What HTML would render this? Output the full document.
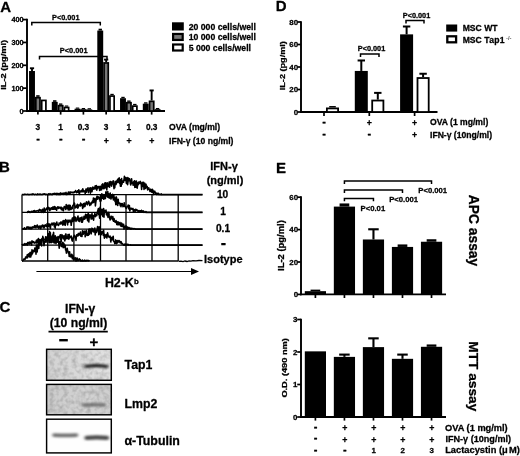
<!DOCTYPE html>
<html><head><meta charset="utf-8"><title>Figure</title>
<style>html,body{margin:0;padding:0;background:#fff;overflow:hidden}svg{display:block}text{font-family:"Liberation Sans",sans-serif;font-weight:bold;fill:#000;stroke:#000;stroke-width:0.28px;stroke-linejoin:round}</style>
</head><body>
<svg width="520" height="456" viewBox="0 0 520 456">
<rect width="520" height="456" fill="#fff"/>
<text x="0.30" y="11.80" font-size="15" text-anchor="start" >A</text>
<line x1="27.00" y1="18.80" x2="27.00" y2="111.95" stroke="#000" stroke-width="1.9" />
<line x1="26.05" y1="111.00" x2="165.00" y2="111.00" stroke="#000" stroke-width="1.9" />
<line x1="22.70" y1="111.00" x2="27.00" y2="111.00" stroke="#000" stroke-width="1.7" />
<text x="23.60" y="113.52" font-size="7.3" text-anchor="end" >0</text>
<line x1="22.70" y1="88.15" x2="27.00" y2="88.15" stroke="#000" stroke-width="1.7" />
<text x="23.60" y="90.67" font-size="7.3" text-anchor="end" >100</text>
<line x1="22.70" y1="65.30" x2="27.00" y2="65.30" stroke="#000" stroke-width="1.7" />
<text x="23.60" y="67.82" font-size="7.3" text-anchor="end" >200</text>
<line x1="22.70" y1="42.45" x2="27.00" y2="42.45" stroke="#000" stroke-width="1.7" />
<text x="23.60" y="44.97" font-size="7.3" text-anchor="end" >300</text>
<line x1="22.70" y1="19.60" x2="27.00" y2="19.60" stroke="#000" stroke-width="1.7" />
<text x="23.60" y="22.12" font-size="7.3" text-anchor="end" >400</text>
<text transform="translate(3.10,64.80) rotate(-90) scale(1.16,1)" font-size="8.0" text-anchor="middle" dy="0.36em">IL-2 (pg/ml)</text>
<line x1="37.90" y1="111.00" x2="37.90" y2="114.60" stroke="#000" stroke-width="1.7" />
<line x1="32.00" y1="68.27" x2="32.00" y2="71.01" stroke="#000" stroke-width="1.9" />
<line x1="29.90" y1="68.27" x2="34.10" y2="68.27" stroke="#000" stroke-width="1.9" />
<rect x="29.90" y="71.86" width="4.20" height="39.14" fill="#000" stroke="#000" stroke-width="1.7"/>
<rect x="36.20" y="95.20" width="3.40" height="1.64" fill="#000" stroke="none" stroke-width="0"/>
<rect x="35.80" y="97.68" width="4.20" height="13.32" fill="#777" stroke="#000" stroke-width="1.7"/>
<rect x="41.70" y="100.42" width="4.20" height="10.58" fill="#fff" stroke="#000" stroke-width="1.7"/>
<line x1="60.65" y1="111.00" x2="60.65" y2="114.60" stroke="#000" stroke-width="1.7" />
<rect x="53.05" y="100.22" width="3.40" height="1.64" fill="#000" stroke="none" stroke-width="0"/>
<rect x="52.65" y="102.71" width="4.20" height="8.29" fill="#000" stroke="#000" stroke-width="1.7"/>
<rect x="58.95" y="103.42" width="3.40" height="1.41" fill="#000" stroke="none" stroke-width="0"/>
<rect x="58.55" y="105.68" width="4.20" height="5.32" fill="#777" stroke="#000" stroke-width="1.7"/>
<rect x="64.85" y="105.48" width="3.40" height="1.18" fill="#000" stroke="none" stroke-width="0"/>
<rect x="64.45" y="107.51" width="4.20" height="3.49" fill="#fff" stroke="#000" stroke-width="1.7"/>
<line x1="83.40" y1="111.00" x2="83.40" y2="114.60" stroke="#000" stroke-width="1.7" />
<rect x="75.80" y="107.54" width="3.40" height="1.18" fill="#000" stroke="none" stroke-width="0"/>
<rect x="75.40" y="109.56" width="4.20" height="1.44" fill="#000" stroke="#000" stroke-width="1.7"/>
<rect x="81.70" y="107.99" width="3.40" height="1.18" fill="#000" stroke="none" stroke-width="0"/>
<rect x="81.30" y="110.02" width="4.20" height="0.98" fill="#777" stroke="#000" stroke-width="1.7"/>
<rect x="87.60" y="108.22" width="3.40" height="1.18" fill="#000" stroke="none" stroke-width="0"/>
<rect x="87.20" y="110.25" width="4.20" height="0.75" fill="#fff" stroke="#000" stroke-width="1.7"/>
<line x1="106.15" y1="111.00" x2="106.15" y2="114.60" stroke="#000" stroke-width="1.7" />
<rect x="98.55" y="28.70" width="3.40" height="1.86" fill="#000" stroke="none" stroke-width="0"/>
<rect x="98.15" y="31.42" width="4.20" height="79.58" fill="#000" stroke="#000" stroke-width="1.7"/>
<line x1="106.15" y1="59.59" x2="106.15" y2="62.10" stroke="#000" stroke-width="1.9" />
<line x1="104.05" y1="59.59" x2="108.25" y2="59.59" stroke="#000" stroke-width="1.9" />
<rect x="104.05" y="62.95" width="4.20" height="48.05" fill="#777" stroke="#000" stroke-width="1.7"/>
<rect x="110.35" y="93.83" width="3.40" height="1.41" fill="#000" stroke="none" stroke-width="0"/>
<rect x="109.95" y="96.08" width="4.20" height="14.92" fill="#fff" stroke="#000" stroke-width="1.7"/>
<line x1="128.90" y1="111.00" x2="128.90" y2="114.60" stroke="#000" stroke-width="1.7" />
<rect x="121.30" y="96.80" width="3.40" height="1.41" fill="#000" stroke="none" stroke-width="0"/>
<rect x="120.90" y="99.05" width="4.20" height="11.95" fill="#000" stroke="#000" stroke-width="1.7"/>
<rect x="127.20" y="100.45" width="3.40" height="1.41" fill="#000" stroke="none" stroke-width="0"/>
<rect x="126.80" y="102.71" width="4.20" height="8.29" fill="#777" stroke="#000" stroke-width="1.7"/>
<rect x="133.10" y="103.88" width="3.40" height="1.41" fill="#000" stroke="none" stroke-width="0"/>
<rect x="132.70" y="106.14" width="4.20" height="4.86" fill="#fff" stroke="#000" stroke-width="1.7"/>
<line x1="151.65" y1="111.00" x2="151.65" y2="114.60" stroke="#000" stroke-width="1.7" />
<rect x="144.05" y="102.28" width="3.40" height="1.41" fill="#000" stroke="none" stroke-width="0"/>
<rect x="143.65" y="104.54" width="4.20" height="6.46" fill="#000" stroke="#000" stroke-width="1.7"/>
<line x1="151.65" y1="90.44" x2="151.65" y2="100.49" stroke="#000" stroke-width="1.9" />
<line x1="149.55" y1="90.44" x2="153.75" y2="90.44" stroke="#000" stroke-width="1.9" />
<rect x="149.55" y="101.34" width="4.20" height="9.66" fill="#777" stroke="#000" stroke-width="1.7"/>
<rect x="155.85" y="107.99" width="3.40" height="1.18" fill="#000" stroke="none" stroke-width="0"/>
<rect x="155.45" y="110.02" width="4.20" height="0.98" fill="#fff" stroke="#000" stroke-width="1.7"/>
<text x="37.90" y="129.80" font-size="8.3" text-anchor="middle" >3</text>
<text x="38.10" y="141.50" font-size="11" text-anchor="middle" >-</text>
<text x="60.65" y="129.80" font-size="8.3" text-anchor="middle" >1</text>
<text x="60.85" y="141.50" font-size="11" text-anchor="middle" >-</text>
<text x="83.40" y="129.80" font-size="8.3" text-anchor="middle" >0.3</text>
<text x="83.60" y="141.50" font-size="11" text-anchor="middle" >-</text>
<text x="106.15" y="129.80" font-size="8.3" text-anchor="middle" >3</text>
<text x="106.35" y="143.60" font-size="8.8" text-anchor="middle" >+</text>
<text x="128.90" y="129.80" font-size="8.3" text-anchor="middle" >1</text>
<text x="129.10" y="143.60" font-size="8.8" text-anchor="middle" >+</text>
<text x="151.65" y="129.80" font-size="8.3" text-anchor="middle" >0.3</text>
<text x="151.85" y="143.60" font-size="8.8" text-anchor="middle" >+</text>
<text x="169.00" y="130.30" font-size="8.6" text-anchor="start" >OVA (mg/ml)</text>
<text x="169.00" y="144.00" font-size="8.6" text-anchor="start" >IFN-γ (10 ng/ml)</text>
<path d="M31.80 25.40V22.40H100.30V25.40" fill="none" stroke="#000" stroke-width="1.5"/>
<text x="65.80" y="19.60" font-size="7.3" text-anchor="middle" >P&lt;0.001</text>
<path d="M39.50 59.40V56.40H107.00V59.40" fill="none" stroke="#000" stroke-width="1.5"/>
<text x="73.70" y="53.30" font-size="7.4" text-anchor="middle" >P&lt;0.001</text>
<rect x="173.10" y="23.40" width="9.60" height="6.00" fill="#000" stroke="#000" stroke-width="2.2"/>
<text x="188.70" y="29.80" font-size="8.7" text-anchor="start" >20 000 cells/well</text>
<rect x="173.10" y="33.95" width="9.60" height="6.00" fill="#777" stroke="#000" stroke-width="2.2"/>
<text x="188.70" y="40.40" font-size="8.7" text-anchor="start" >10 000 cells/well</text>
<rect x="173.10" y="44.50" width="9.60" height="6.00" fill="#fff" stroke="#000" stroke-width="2.2"/>
<text x="188.70" y="50.80" font-size="8.7" text-anchor="start" >5 000 cells/well</text>
<text x="275.80" y="11.00" font-size="15" text-anchor="start" >D</text>
<line x1="301.00" y1="21.20" x2="301.00" y2="112.95" stroke="#000" stroke-width="1.9" />
<line x1="300.05" y1="112.00" x2="437.50" y2="112.00" stroke="#000" stroke-width="1.9" />
<line x1="297.20" y1="112.00" x2="301.00" y2="112.00" stroke="#000" stroke-width="1.7" />
<text x="298.10" y="114.73" font-size="7.9" text-anchor="end" >0</text>
<line x1="297.20" y1="89.50" x2="301.00" y2="89.50" stroke="#000" stroke-width="1.7" />
<text x="298.10" y="92.23" font-size="7.9" text-anchor="end" >20</text>
<line x1="297.20" y1="67.00" x2="301.00" y2="67.00" stroke="#000" stroke-width="1.7" />
<text x="298.10" y="69.73" font-size="7.9" text-anchor="end" >40</text>
<line x1="297.20" y1="44.50" x2="301.00" y2="44.50" stroke="#000" stroke-width="1.7" />
<text x="298.10" y="47.23" font-size="7.9" text-anchor="end" >60</text>
<line x1="297.20" y1="22.00" x2="301.00" y2="22.00" stroke="#000" stroke-width="1.7" />
<text x="298.10" y="24.73" font-size="7.9" text-anchor="end" >80</text>
<text transform="translate(281.80,65.70) rotate(-90) scale(1.14,1)" font-size="8.0" text-anchor="middle" dy="0.36em">IL-2 (pg/ml)</text>
<line x1="324.00" y1="112.00" x2="324.00" y2="116.00" stroke="#000" stroke-width="1.7" />
<rect x="329.20" y="106.05" width="6.60" height="1.45" fill="#000" stroke="none" stroke-width="0"/>
<rect x="326.90" y="108.40" width="11.20" height="3.60" fill="#fff" stroke="#000" stroke-width="1.8"/>
<line x1="369.30" y1="112.00" x2="369.30" y2="116.00" stroke="#000" stroke-width="1.7" />
<line x1="361.30" y1="60.48" x2="361.30" y2="70.94" stroke="#000" stroke-width="2.0" />
<line x1="357.60" y1="60.48" x2="365.00" y2="60.48" stroke="#000" stroke-width="2.0" />
<rect x="355.70" y="71.84" width="11.20" height="40.16" fill="#000" stroke="#000" stroke-width="1.8"/>
<line x1="377.80" y1="92.88" x2="377.80" y2="99.62" stroke="#000" stroke-width="2.0" />
<line x1="374.10" y1="92.88" x2="381.50" y2="92.88" stroke="#000" stroke-width="2.0" />
<rect x="372.20" y="100.53" width="11.20" height="11.47" fill="#fff" stroke="#000" stroke-width="1.8"/>
<line x1="414.60" y1="112.00" x2="414.60" y2="116.00" stroke="#000" stroke-width="1.7" />
<line x1="406.60" y1="26.50" x2="406.60" y2="34.38" stroke="#000" stroke-width="2.0" />
<line x1="402.90" y1="26.50" x2="410.30" y2="26.50" stroke="#000" stroke-width="2.0" />
<rect x="401.00" y="35.27" width="11.20" height="76.72" fill="#000" stroke="#000" stroke-width="1.8"/>
<line x1="423.10" y1="73.75" x2="423.10" y2="77.12" stroke="#000" stroke-width="2.0" />
<line x1="419.40" y1="73.75" x2="426.80" y2="73.75" stroke="#000" stroke-width="2.0" />
<rect x="417.50" y="78.03" width="11.20" height="33.98" fill="#fff" stroke="#000" stroke-width="1.8"/>
<text x="324.00" y="124.50" font-size="11" text-anchor="middle" >-</text>
<text x="324.00" y="136.50" font-size="11" text-anchor="middle" >-</text>
<text x="369.30" y="125.60" font-size="8.8" text-anchor="middle" >+</text>
<text x="369.30" y="136.50" font-size="11" text-anchor="middle" >-</text>
<text x="414.60" y="125.60" font-size="8.8" text-anchor="middle" >+</text>
<text x="414.60" y="137.80" font-size="8.8" text-anchor="middle" >+</text>
<text x="430.00" y="125.20" font-size="8.6" text-anchor="start" >OVA (1 mg/ml)</text>
<text x="430.00" y="137.50" font-size="8.6" text-anchor="start" >IFN-γ (10ng/ml)</text>
<path d="M360.50 57.00V54.00H379.00V57.00" fill="none" stroke="#000" stroke-width="1.5"/>
<text x="371.50" y="50.60" font-size="7.3" text-anchor="middle" >P&lt;0.001</text>
<path d="M406.00 23.60V20.60H424.00V23.60" fill="none" stroke="#000" stroke-width="1.5"/>
<text x="416.50" y="17.90" font-size="7.3" text-anchor="middle" >P&lt;0.001</text>
<rect x="447.20" y="25.50" width="9.00" height="5.10" fill="#000" stroke="#000" stroke-width="2.0"/>
<rect x="447.30" y="36.30" width="8.80" height="6.00" fill="#fff" stroke="#000" stroke-width="2.3"/>
<text x="462.70" y="31.30" font-size="8.6" text-anchor="start" >MSC WT</text>
<text x="462.7" y="43.4" font-size="8.6">MSC <tspan letter-spacing="0.35">Tap1</tspan><tspan font-size="5.8" dy="-3.6" dx="1.0" fill="#555" stroke="none">-/-</tspan></text>
<text x="276.00" y="172.90" font-size="15" text-anchor="start" >E</text>
<line x1="301.00" y1="196.30" x2="301.00" y2="295.35" stroke="#000" stroke-width="1.9" />
<line x1="300.05" y1="294.40" x2="446.00" y2="294.40" stroke="#000" stroke-width="1.9" />
<line x1="297.20" y1="294.40" x2="301.00" y2="294.40" stroke="#000" stroke-width="1.7" />
<text x="298.10" y="297.13" font-size="7.9" text-anchor="end" >0</text>
<line x1="297.20" y1="262.00" x2="301.00" y2="262.00" stroke="#000" stroke-width="1.7" />
<text x="298.10" y="264.73" font-size="7.9" text-anchor="end" >20</text>
<line x1="297.20" y1="229.60" x2="301.00" y2="229.60" stroke="#000" stroke-width="1.7" />
<text x="298.10" y="232.33" font-size="7.9" text-anchor="end" >40</text>
<line x1="297.20" y1="197.20" x2="301.00" y2="197.20" stroke="#000" stroke-width="1.7" />
<text x="298.10" y="199.93" font-size="7.9" text-anchor="end" >60</text>
<text transform="translate(280.70,245.60) rotate(-90) scale(1.15,1)" font-size="8.2" text-anchor="middle" dy="0.36em">IL-2 (pg/ml)</text>
<line x1="315.40" y1="294.40" x2="315.40" y2="298.00" stroke="#000" stroke-width="1.7" />
<rect x="310.55" y="289.62" width="9.70" height="1.54" fill="#000" stroke="none" stroke-width="0"/>
<rect x="304.80" y="291.16" width="21.20" height="3.24" fill="#000" stroke="none" stroke-width="0"/>
<line x1="344.43" y1="294.40" x2="344.43" y2="298.00" stroke="#000" stroke-width="1.7" />
<rect x="339.58" y="203.44" width="9.70" height="3.16" fill="#000" stroke="none" stroke-width="0"/>
<rect x="333.83" y="206.60" width="21.20" height="87.80" fill="#000" stroke="none" stroke-width="0"/>
<line x1="373.46" y1="294.40" x2="373.46" y2="298.00" stroke="#000" stroke-width="1.7" />
<line x1="373.46" y1="229.28" x2="373.46" y2="239.48" stroke="#000" stroke-width="2.1" />
<line x1="368.21" y1="229.28" x2="378.71" y2="229.28" stroke="#000" stroke-width="2.1" />
<rect x="362.86" y="239.48" width="21.20" height="54.92" fill="#000" stroke="none" stroke-width="0"/>
<line x1="402.49" y1="294.40" x2="402.49" y2="298.00" stroke="#000" stroke-width="1.7" />
<rect x="397.64" y="244.43" width="9.70" height="2.51" fill="#000" stroke="none" stroke-width="0"/>
<rect x="391.89" y="246.93" width="21.20" height="47.47" fill="#000" stroke="none" stroke-width="0"/>
<line x1="431.52" y1="294.40" x2="431.52" y2="298.00" stroke="#000" stroke-width="1.7" />
<rect x="426.67" y="239.24" width="9.70" height="2.51" fill="#000" stroke="none" stroke-width="0"/>
<rect x="420.92" y="241.75" width="21.20" height="52.65" fill="#000" stroke="none" stroke-width="0"/>
<path d="M344.43 183.90V181.10H431.52V183.90" fill="none" stroke="#000" stroke-width="1.5"/>
<path d="M344.43 192.90V190.10H402.49V192.90" fill="none" stroke="#000" stroke-width="1.5"/>
<path d="M344.43 201.20V198.40H373.46V201.20" fill="none" stroke="#000" stroke-width="1.5"/>
<text x="372.90" y="211.00" font-size="7.7" text-anchor="middle" >P&lt;0.01</text>
<text x="403.60" y="202.00" font-size="7.7" text-anchor="middle" >P&lt;0.001</text>
<text x="432.70" y="193.30" font-size="7.7" text-anchor="middle" >P&lt;0.001</text>
<text transform="translate(474.20,230.50) rotate(90) scale(1,1)" font-size="13.8" text-anchor="middle" dy="0.36em">APC assay</text>
<line x1="301.00" y1="318.80" x2="301.00" y2="417.95" stroke="#000" stroke-width="1.9" />
<line x1="300.05" y1="417.00" x2="446.00" y2="417.00" stroke="#000" stroke-width="1.9" />
<line x1="297.20" y1="417.00" x2="301.00" y2="417.00" stroke="#000" stroke-width="1.7" />
<text x="297.40" y="419.73" font-size="7.9" text-anchor="end" >0</text>
<line x1="297.20" y1="384.50" x2="301.00" y2="384.50" stroke="#000" stroke-width="1.7" />
<text x="297.40" y="387.23" font-size="7.9" text-anchor="end" >1</text>
<line x1="297.20" y1="352.00" x2="301.00" y2="352.00" stroke="#000" stroke-width="1.7" />
<text x="297.40" y="354.73" font-size="7.9" text-anchor="end" >2</text>
<line x1="297.20" y1="319.50" x2="301.00" y2="319.50" stroke="#000" stroke-width="1.7" />
<text x="297.40" y="322.23" font-size="7.9" text-anchor="end" >3</text>
<text transform="translate(284.30,367.90) rotate(-90) scale(1.155,1)" font-size="8.0" text-anchor="middle" dy="0.36em">O.D. (490 nm)</text>
<line x1="315.40" y1="417.00" x2="315.40" y2="420.60" stroke="#000" stroke-width="1.7" />
<rect x="304.80" y="351.35" width="21.20" height="65.65" fill="#000" stroke="none" stroke-width="0"/>
<line x1="344.43" y1="417.00" x2="344.43" y2="420.60" stroke="#000" stroke-width="1.7" />
<line x1="344.43" y1="354.60" x2="344.43" y2="356.88" stroke="#000" stroke-width="2.1" />
<line x1="339.18" y1="354.60" x2="349.68" y2="354.60" stroke="#000" stroke-width="2.1" />
<rect x="333.83" y="356.88" width="21.20" height="60.12" fill="#000" stroke="none" stroke-width="0"/>
<line x1="373.46" y1="417.00" x2="373.46" y2="420.60" stroke="#000" stroke-width="1.7" />
<line x1="373.46" y1="338.35" x2="373.46" y2="347.12" stroke="#000" stroke-width="2.1" />
<line x1="368.21" y1="338.35" x2="378.71" y2="338.35" stroke="#000" stroke-width="2.1" />
<rect x="362.86" y="347.12" width="21.20" height="69.88" fill="#000" stroke="none" stroke-width="0"/>
<line x1="402.49" y1="417.00" x2="402.49" y2="420.60" stroke="#000" stroke-width="1.7" />
<line x1="402.49" y1="354.60" x2="402.49" y2="358.82" stroke="#000" stroke-width="2.1" />
<line x1="397.24" y1="354.60" x2="407.74" y2="354.60" stroke="#000" stroke-width="2.1" />
<rect x="391.89" y="358.82" width="21.20" height="58.18" fill="#000" stroke="none" stroke-width="0"/>
<line x1="431.52" y1="417.00" x2="431.52" y2="420.60" stroke="#000" stroke-width="1.7" />
<rect x="426.67" y="344.45" width="9.70" height="2.35" fill="#000" stroke="none" stroke-width="0"/>
<rect x="420.92" y="346.80" width="21.20" height="70.20" fill="#000" stroke="none" stroke-width="0"/>
<text x="315.70" y="430.30" font-size="11" text-anchor="middle" >-</text>
<text x="344.73" y="431.20" font-size="8.8" text-anchor="middle" >+</text>
<text x="373.76" y="431.20" font-size="8.8" text-anchor="middle" >+</text>
<text x="402.79" y="431.20" font-size="8.8" text-anchor="middle" >+</text>
<text x="431.82" y="431.20" font-size="8.8" text-anchor="middle" >+</text>
<text x="315.70" y="441.10" font-size="11" text-anchor="middle" >-</text>
<text x="344.73" y="443.00" font-size="8.8" text-anchor="middle" >+</text>
<text x="373.76" y="443.00" font-size="8.8" text-anchor="middle" >+</text>
<text x="402.79" y="443.00" font-size="8.8" text-anchor="middle" >+</text>
<text x="431.82" y="443.00" font-size="8.8" text-anchor="middle" >+</text>
<text x="315.70" y="453.30" font-size="11" text-anchor="middle" >-</text>
<text x="344.73" y="453.30" font-size="11" text-anchor="middle" >-</text>
<text x="373.76" y="453.20" font-size="7.9" text-anchor="middle" >1</text>
<text x="402.79" y="453.20" font-size="7.9" text-anchor="middle" >2</text>
<text x="431.82" y="453.20" font-size="7.9" text-anchor="middle" >3</text>
<text x="445.00" y="431.00" font-size="9.25" text-anchor="start" >OVA (1 mg/ml)</text>
<text x="445.40" y="442.40" font-size="9.1" text-anchor="start" >IFN-γ (10ng/ml)</text>
<text x="445.20" y="453.30" font-size="9.3" text-anchor="start" >Lactacystin (μ<tspan dx="1.3">M)</tspan></text>
<text transform="translate(473.80,376.30) rotate(90) scale(1,1)" font-size="13.7" text-anchor="middle" dy="0.36em">MTT assay</text>
<text x="-1.00" y="171.70" font-size="15" text-anchor="start" >B</text>
<line x1="22.00" y1="194.60" x2="22.00" y2="261.00" stroke="#000" stroke-width="1.3" />
<line x1="47.70" y1="194.60" x2="47.70" y2="261.00" stroke="#000" stroke-width="1.3" />
<line x1="73.90" y1="194.60" x2="73.90" y2="261.00" stroke="#000" stroke-width="1.3" />
<line x1="100.50" y1="194.60" x2="100.50" y2="261.00" stroke="#000" stroke-width="1.3" />
<line x1="126.00" y1="194.60" x2="126.00" y2="261.00" stroke="#000" stroke-width="1.3" />
<line x1="152.00" y1="194.60" x2="152.00" y2="261.00" stroke="#000" stroke-width="1.3" />
<line x1="178.20" y1="194.60" x2="178.20" y2="261.00" stroke="#000" stroke-width="1.3" />
<line x1="22.00" y1="194.60" x2="202.30" y2="194.60" stroke="#000" stroke-width="1.3" />
<line x1="22.00" y1="212.40" x2="202.30" y2="212.40" stroke="#000" stroke-width="1.3" />
<line x1="22.00" y1="229.10" x2="202.30" y2="229.10" stroke="#000" stroke-width="1.3" />
<line x1="22.00" y1="245.20" x2="202.30" y2="245.20" stroke="#000" stroke-width="1.3" />
<line x1="22.00" y1="261.00" x2="178.20" y2="261.00" stroke="#000" stroke-width="1.3" />
<path d="M178.5 261.4L181 261.2L183 261.6L185 261L187 261.5L189 260.8L191 261.2L193 260.6L196 260.9L199 260.5L202.5 260.6" fill="none" stroke="#000" stroke-width="1.3"/>
<path d="M22.00 194.60 L22.40 194.49 L22.80 194.60 L23.20 194.60 L23.60 194.60 L24.00 194.60 L24.40 194.28 L24.80 194.46 L25.20 194.27 L25.60 194.49 L26.00 194.44 L26.40 194.50 L26.80 194.60 L27.20 194.28 L27.60 194.38 L28.00 194.38 L28.40 194.60 L28.80 194.60 L29.20 194.60 L29.60 194.60 L30.00 194.41 L30.40 194.53 L30.80 194.33 L31.20 194.60 L31.60 194.39 L32.00 194.36 L32.40 194.60 L32.80 193.89 L33.20 194.28 L33.60 194.02 L34.00 194.60 L34.40 194.60 L34.80 194.60 L35.20 194.51 L35.60 194.21 L36.00 194.36 L36.40 194.60 L36.80 194.60 L37.20 194.60 L37.60 193.93 L38.00 194.60 L38.40 194.33 L38.80 194.25 L39.20 194.60 L39.60 194.41 L40.00 193.85 L40.40 194.60 L40.80 194.56 L41.20 194.46 L41.60 194.60 L42.00 194.18 L42.40 194.43 L42.80 194.60 L43.20 194.01 L43.60 194.07 L44.00 193.94 L44.40 193.70 L44.80 194.20 L45.20 194.31 L45.60 194.60 L46.00 194.07 L46.40 194.60 L46.80 194.58 L47.20 194.60 L47.60 194.60 L48.00 194.60 L48.40 193.70 L48.80 194.60 L49.20 194.60 L49.60 194.21 L50.00 193.59 L50.40 194.01 L50.80 194.60 L51.20 194.60 L51.60 194.08 L52.00 194.60 L52.40 194.60 L52.80 193.68 L53.20 193.59 L53.60 194.12 L54.00 194.05 L54.40 193.92 L54.80 193.22 L55.20 193.78 L55.60 193.83 L56.00 193.79 L56.40 194.60 L56.80 193.30 L57.20 193.49 L57.60 193.74 L58.00 194.60 L58.40 194.46 L58.80 193.48 L59.20 194.60 L59.60 194.13 L60.00 193.31 L60.40 194.60 L60.80 192.88 L61.20 193.58 L61.60 194.05 L62.00 193.70 L62.40 193.46 L62.80 193.82 L63.20 193.07 L63.60 194.35 L64.00 194.16 L64.40 193.04 L64.80 193.74 L65.20 194.39 L65.60 192.91 L66.00 192.42 L66.40 193.92 L66.80 194.60 L67.20 193.57 L67.60 193.53 L68.00 193.61 L68.40 192.03 L68.80 194.19 L69.20 192.02 L69.60 194.34 L70.00 193.85 L70.40 192.42 L70.80 191.87 L71.20 192.08 L71.60 192.54 L72.00 192.69 L72.40 192.62 L72.80 192.13 L73.20 192.87 L73.60 192.33 L74.00 191.95 L74.40 192.50 L74.80 191.58 L75.20 191.72 L75.60 190.46 L76.00 191.85 L76.40 192.66 L76.80 192.53 L77.20 192.03 L77.60 190.81 L78.00 192.29 L78.40 191.32 L78.80 189.71 L79.20 194.46 L79.60 193.04 L80.00 191.20 L80.40 190.92 L80.80 191.06 L81.20 191.88 L81.60 190.35 L82.00 190.78 L82.40 191.81 L82.80 188.80 L83.20 190.46 L83.60 191.67 L84.00 190.95 L84.40 191.07 L84.80 190.76 L85.20 193.81 L85.60 191.25 L86.00 188.97 L86.40 192.13 L86.80 190.40 L87.20 188.78 L87.60 188.83 L88.00 187.77 L88.40 192.63 L88.80 190.46 L89.20 190.37 L89.60 188.76 L90.00 187.92 L90.40 193.14 L90.80 187.75 L91.20 191.80 L91.60 188.23 L92.00 191.75 L92.40 188.90 L92.80 187.11 L93.20 189.29 L93.60 188.62 L94.00 187.48 L94.40 188.51 L94.80 188.82 L95.20 185.89 L95.60 186.63 L96.00 188.91 L96.40 185.44 L96.80 190.27 L97.20 186.46 L97.60 188.51 L98.00 187.69 L98.40 186.54 L98.80 187.33 L99.20 186.46 L99.60 190.43 L100.00 190.32 L100.40 186.21 L100.80 189.13 L101.20 189.17 L101.60 189.93 L102.00 184.52 L102.40 185.42 L102.80 183.87 L103.20 188.54 L103.60 186.57 L104.00 188.76 L104.40 184.82 L104.80 183.04 L105.20 187.98 L105.60 182.86 L106.00 183.92 L106.40 186.23 L106.80 189.87 L107.20 182.70 L107.60 185.76 L108.00 186.73 L108.40 184.50 L108.80 184.37 L109.20 181.92 L109.60 187.25 L110.00 182.47 L110.40 181.56 L110.80 181.49 L111.20 184.95 L111.60 186.08 L112.00 182.01 L112.40 183.91 L112.80 183.76 L113.20 180.67 L113.60 184.38 L114.00 188.72 L114.40 184.42 L114.80 187.71 L115.20 181.35 L115.60 182.39 L116.00 184.45 L116.40 182.88 L116.80 180.73 L117.20 182.39 L117.60 179.24 L118.00 182.45 L118.40 179.62 L118.80 178.37 L119.20 177.94 L119.60 183.40 L120.00 179.41 L120.40 186.18 L120.80 184.11 L121.20 186.22 L121.60 178.51 L122.00 184.21 L122.40 181.03 L122.80 181.39 L123.20 180.87 L123.60 182.21 L124.00 180.00 L124.40 176.38 L124.80 180.29 L125.20 178.93 L125.60 177.60 L126.00 180.62 L126.40 183.45 L126.80 181.69 L127.20 177.55 L127.60 184.65 L128.00 182.01 L128.40 177.96 L128.80 178.59 L129.20 180.68 L129.60 178.72 L130.00 180.43 L130.40 183.92 L130.80 184.96 L131.20 182.69 L131.60 178.82 L132.00 182.65 L132.40 183.56 L132.80 183.30 L133.20 185.27 L133.60 181.82 L134.00 184.53 L134.40 180.88 L134.80 187.36 L135.20 181.34 L135.60 183.87 L136.00 187.18 L136.40 180.95 L136.80 183.51 L137.20 188.24 L137.60 185.26 L138.00 182.70 L138.40 184.60 L138.80 181.91 L139.20 182.17 L139.60 182.53 L140.00 183.47 L140.40 181.39 L140.80 183.07 L141.20 183.71 L141.60 189.41 L142.00 183.09 L142.40 182.39 L142.80 186.00 L143.20 186.52 L143.60 182.34 L144.00 189.51 L144.40 185.18 L144.80 183.19 L145.20 188.53 L145.60 185.62 L146.00 184.17 L146.40 187.74 L146.80 186.75 L147.20 186.43 L147.60 189.96 L148.00 188.78 L148.40 188.40 L148.80 187.79 L149.20 189.50 L149.60 190.04 L150.00 191.58 L150.40 190.78 L150.80 189.14 L151.20 190.55 L151.60 192.12 L152.00 192.31 L152.40 189.27 L152.80 190.16 L153.20 191.06 L153.60 194.60 L154.00 191.60 L154.40 192.02 L154.80 191.11 L155.20 192.59 L155.60 193.30 L156.00 193.02 L156.40 194.60 L156.80 193.21 L157.20 193.86 L157.60 194.55 L158.00 193.37 L158.40 193.28 L158.80 194.60 L159.20 194.60 L159.60 194.19 L160.00 194.29 L160.40 194.60 L160.80 194.60 L161.20 193.93 L161.60 194.24" fill="none" stroke="#000" stroke-width="1.55" stroke-linejoin="round"/>
<line x1="161.00" y1="194.60" x2="202.60" y2="194.60" stroke="#000" stroke-width="1.7" />
<path d="M27.00 212.40 L27.40 212.40 L27.80 211.64 L28.20 211.77 L28.60 211.36 L29.00 211.65 L29.40 212.40 L29.80 211.80 L30.20 212.40 L30.60 212.32 L31.00 211.81 L31.40 211.34 L31.80 212.17 L32.20 211.67 L32.60 211.16 L33.00 211.15 L33.40 210.87 L33.80 211.15 L34.20 211.54 L34.60 210.52 L35.00 211.10 L35.40 211.84 L35.80 211.61 L36.20 210.97 L36.60 211.01 L37.00 210.69 L37.40 210.79 L37.80 210.55 L38.20 210.80 L38.60 211.91 L39.00 210.11 L39.40 209.37 L39.80 209.96 L40.20 210.58 L40.60 209.82 L41.00 211.33 L41.40 212.33 L41.80 210.06 L42.20 211.15 L42.60 209.18 L43.00 211.26 L43.40 212.40 L43.80 211.15 L44.20 207.99 L44.60 210.29 L45.00 211.45 L45.40 210.68 L45.80 209.07 L46.20 209.06 L46.60 209.41 L47.00 207.73 L47.40 208.66 L47.80 209.53 L48.20 208.71 L48.60 207.38 L49.00 208.13 L49.40 208.02 L49.80 210.71 L50.20 209.46 L50.60 208.26 L51.00 209.57 L51.40 207.71 L51.80 208.30 L52.20 207.83 L52.60 209.30 L53.00 206.80 L53.40 207.24 L53.80 209.19 L54.20 208.73 L54.60 206.59 L55.00 209.25 L55.40 207.50 L55.80 207.31 L56.20 208.64 L56.60 210.27 L57.00 208.30 L57.40 208.01 L57.80 206.85 L58.20 207.31 L58.60 208.37 L59.00 207.11 L59.40 207.53 L59.80 207.98 L60.20 208.14 L60.60 208.52 L61.00 207.05 L61.40 209.62 L61.80 208.91 L62.20 207.87 L62.60 210.08 L63.00 208.43 L63.40 210.83 L63.80 208.69 L64.20 206.63 L64.60 206.56 L65.00 207.49 L65.40 207.71 L65.80 209.57 L66.20 204.57 L66.60 206.28 L67.00 205.24 L67.40 208.46 L67.80 207.23 L68.20 209.92 L68.60 205.46 L69.00 205.12 L69.40 209.90 L69.80 206.67 L70.20 205.41 L70.60 209.51 L71.00 209.57 L71.40 208.18 L71.80 207.35 L72.20 208.66 L72.60 206.04 L73.00 205.58 L73.40 204.81 L73.80 204.62 L74.20 203.08 L74.60 203.62 L75.00 208.10 L75.40 206.53 L75.80 207.49 L76.20 207.44 L76.60 205.49 L77.00 205.24 L77.40 204.24 L77.80 208.12 L78.20 207.38 L78.60 204.96 L79.00 205.21 L79.40 205.35 L79.80 204.78 L80.20 206.07 L80.60 203.09 L81.00 203.69 L81.40 204.49 L81.80 205.58 L82.20 204.49 L82.60 208.52 L83.00 205.97 L83.40 203.80 L83.80 206.90 L84.20 203.30 L84.60 203.32 L85.00 206.42 L85.40 203.98 L85.80 204.03 L86.20 202.31 L86.60 201.89 L87.00 203.19 L87.40 204.85 L87.80 203.25 L88.20 202.99 L88.60 201.17 L89.00 202.04 L89.40 204.17 L89.80 205.48 L90.20 203.24 L90.60 203.98 L91.00 204.72 L91.40 202.42 L91.80 203.18 L92.20 201.75 L92.60 200.72 L93.00 202.76 L93.40 198.00 L93.80 202.23 L94.20 198.78 L94.60 200.88 L95.00 198.38 L95.40 206.03 L95.80 202.44 L96.20 199.89 L96.60 198.85 L97.00 196.24 L97.40 199.16 L97.80 196.63 L98.20 197.70 L98.60 197.06 L99.00 197.96 L99.40 199.45 L99.80 197.59 L100.20 201.44 L100.60 195.50 L101.00 200.96 L101.40 197.52 L101.80 193.83 L102.20 198.40 L102.60 197.60 L103.00 194.42 L103.40 197.25 L103.80 199.30 L104.20 196.29 L104.60 195.25 L105.00 194.73 L105.40 198.58 L105.80 191.95 L106.20 191.77 L106.60 195.93 L107.00 195.07 L107.40 196.84 L107.80 191.54 L108.20 197.48 L108.60 193.89 L109.00 197.32 L109.40 198.14 L109.80 194.53 L110.20 193.12 L110.60 196.99 L111.00 199.00 L111.40 195.30 L111.80 197.81 L112.20 197.11 L112.60 194.22 L113.00 195.50 L113.40 200.01 L113.80 194.94 L114.20 199.25 L114.60 197.60 L115.00 201.41 L115.40 200.22 L115.80 204.60 L116.20 196.89 L116.60 197.76 L117.00 204.05 L117.40 204.95 L117.80 205.44 L118.20 199.37 L118.60 203.30 L119.00 202.68 L119.40 203.48 L119.80 203.33 L120.20 205.62 L120.60 203.50 L121.00 206.75 L121.40 204.16 L121.80 203.63 L122.20 203.55 L122.60 205.17 L123.00 206.69 L123.40 204.88 L123.80 206.32 L124.20 202.76 L124.60 204.49 L125.00 206.32 L125.40 207.17 L125.80 207.79 L126.20 208.37 L126.60 207.52 L127.00 206.60 L127.40 206.41 L127.80 206.49 L128.20 205.02 L128.60 208.82 L129.00 207.86 L129.40 205.61 L129.80 210.98 L130.20 209.12 L130.60 208.27 L131.00 208.45 L131.40 208.26 L131.80 209.31 L132.20 208.65 L132.60 209.23 L133.00 208.47 L133.40 211.94 L133.80 210.76 L134.20 209.77 L134.60 211.11 L135.00 211.21 L135.40 209.37 L135.80 210.92 L136.20 209.60 L136.60 209.60 L137.00 210.18 L137.40 210.09 L137.80 210.82 L138.20 212.20 L138.60 210.96 L139.00 210.61 L139.40 211.61 L139.80 211.33 L140.20 210.70 L140.60 212.11 L141.00 210.94 L141.40 210.28 L141.80 212.00 L142.20 211.54 L142.60 211.81 L143.00 210.72 L143.40 211.63 L143.80 211.33 L144.20 212.37 L144.60 212.03 L145.00 212.09 L145.40 212.40 L145.80 211.56 L146.20 211.92 L146.60 212.40" fill="none" stroke="#000" stroke-width="1.55" stroke-linejoin="round"/>
<line x1="146.00" y1="212.40" x2="202.60" y2="212.40" stroke="#000" stroke-width="1.7" />
<path d="M22.00 228.97 L22.40 229.08 L22.80 228.78 L23.20 228.72 L23.60 229.10 L24.00 228.87 L24.40 227.81 L24.80 228.97 L25.20 229.10 L25.60 229.10 L26.00 229.10 L26.40 228.10 L26.80 227.06 L27.20 227.87 L27.60 227.94 L28.00 226.74 L28.40 228.44 L28.80 228.51 L29.20 227.39 L29.60 227.29 L30.00 228.66 L30.40 228.77 L30.80 227.33 L31.20 227.31 L31.60 228.79 L32.00 227.65 L32.40 227.94 L32.80 226.86 L33.20 227.40 L33.60 227.31 L34.00 227.54 L34.40 225.98 L34.80 225.54 L35.20 227.41 L35.60 226.00 L36.00 227.75 L36.40 226.75 L36.80 225.92 L37.20 224.97 L37.60 227.12 L38.00 226.70 L38.40 226.33 L38.80 228.32 L39.20 226.43 L39.60 227.23 L40.00 225.88 L40.40 227.71 L40.80 228.75 L41.20 226.18 L41.60 225.86 L42.00 226.86 L42.40 224.98 L42.80 226.43 L43.20 226.83 L43.60 225.39 L44.00 228.03 L44.40 226.83 L44.80 225.93 L45.20 224.73 L45.60 226.04 L46.00 225.37 L46.40 226.64 L46.80 225.31 L47.20 223.50 L47.60 226.58 L48.00 223.40 L48.40 226.46 L48.80 225.51 L49.20 225.25 L49.60 224.02 L50.00 227.16 L50.40 228.35 L50.80 224.49 L51.20 224.18 L51.60 224.38 L52.00 222.94 L52.40 224.90 L52.80 224.79 L53.20 223.77 L53.60 224.55 L54.00 222.71 L54.40 226.84 L54.80 225.53 L55.20 228.19 L55.60 223.59 L56.00 225.28 L56.40 223.20 L56.80 222.05 L57.20 224.44 L57.60 224.73 L58.00 225.03 L58.40 225.48 L58.80 225.06 L59.20 222.90 L59.60 223.79 L60.00 223.64 L60.40 223.94 L60.80 222.01 L61.20 222.62 L61.60 223.61 L62.00 222.12 L62.40 223.43 L62.80 225.09 L63.20 220.41 L63.60 222.05 L64.00 224.49 L64.40 220.74 L64.80 221.96 L65.20 225.35 L65.60 219.45 L66.00 221.68 L66.40 220.54 L66.80 221.73 L67.20 222.29 L67.60 224.85 L68.00 219.96 L68.40 221.66 L68.80 222.17 L69.20 220.84 L69.60 221.27 L70.00 220.00 L70.40 221.97 L70.80 221.21 L71.20 225.32 L71.60 221.79 L72.00 219.48 L72.40 218.03 L72.80 221.39 L73.20 220.80 L73.60 217.19 L74.00 221.04 L74.40 218.75 L74.80 216.85 L75.20 220.03 L75.60 217.45 L76.00 221.46 L76.40 219.44 L76.80 219.96 L77.20 219.47 L77.60 217.20 L78.00 216.10 L78.40 220.92 L78.80 220.65 L79.20 218.23 L79.60 221.55 L80.00 218.06 L80.40 217.81 L80.80 219.61 L81.20 217.73 L81.60 222.29 L82.00 217.04 L82.40 222.15 L82.80 220.16 L83.20 219.77 L83.60 219.34 L84.00 216.39 L84.40 218.08 L84.80 219.10 L85.20 216.85 L85.60 214.36 L86.00 217.93 L86.40 217.01 L86.80 214.88 L87.20 217.08 L87.60 220.65 L88.00 213.76 L88.40 213.66 L88.80 222.08 L89.20 217.37 L89.60 216.19 L90.00 214.78 L90.40 215.28 L90.80 217.36 L91.20 219.08 L91.60 216.05 L92.00 213.53 L92.40 218.62 L92.80 218.29 L93.20 215.56 L93.60 220.24 L94.00 215.77 L94.40 216.03 L94.80 213.53 L95.20 216.33 L95.60 216.62 L96.00 215.14 L96.40 214.03 L96.80 215.48 L97.20 213.47 L97.60 211.27 L98.00 209.88 L98.40 208.47 L98.80 214.76 L99.20 213.52 L99.60 218.25 L100.00 207.35 L100.40 213.65 L100.80 211.45 L101.20 209.60 L101.60 214.77 L102.00 209.25 L102.40 210.98 L102.80 216.42 L103.20 210.67 L103.60 208.44 L104.00 217.32 L104.40 210.16 L104.80 212.12 L105.20 211.70 L105.60 212.11 L106.00 210.10 L106.40 214.56 L106.80 212.04 L107.20 215.76 L107.60 213.20 L108.00 217.50 L108.40 216.07 L108.80 212.20 L109.20 215.44 L109.60 217.28 L110.00 220.00 L110.40 219.49 L110.80 217.52 L111.20 216.16 L111.60 217.68 L112.00 217.82 L112.40 219.35 L112.80 216.61 L113.20 220.64 L113.60 221.24 L114.00 218.52 L114.40 220.51 L114.80 221.47 L115.20 222.33 L115.60 221.97 L116.00 220.54 L116.40 221.35 L116.80 224.53 L117.20 221.79 L117.60 222.52 L118.00 224.87 L118.40 222.07 L118.80 224.14 L119.20 224.50 L119.60 222.96 L120.00 222.45 L120.40 225.74 L120.80 224.24 L121.20 226.37 L121.60 223.00 L122.00 226.17 L122.40 224.05 L122.80 226.73 L123.20 225.02 L123.60 224.26 L124.00 229.10 L124.40 227.17 L124.80 226.29 L125.20 227.15 L125.60 227.95 L126.00 225.85 L126.40 227.50 L126.80 229.10 L127.20 227.07 L127.60 229.10 L128.00 227.15 L128.40 228.66 L128.80 228.24 L129.20 227.62 L129.60 228.53 L130.00 229.10 L130.40 229.10 L130.80 228.15 L131.20 228.42 L131.60 229.10 L132.00 228.43 L132.40 228.64 L132.80 228.61 L133.20 229.10 L133.60 229.08 L134.00 228.62 L134.40 228.73 L134.80 228.72 L135.20 229.10 L135.60 229.03" fill="none" stroke="#000" stroke-width="1.55" stroke-linejoin="round"/>
<line x1="135.00" y1="229.10" x2="202.60" y2="229.10" stroke="#000" stroke-width="1.7" />
<path d="M22.00 245.12 L22.40 244.46 L22.80 245.20 L23.20 245.04 L23.60 244.72 L24.00 244.04 L24.40 244.82 L24.80 243.54 L25.20 244.90 L25.60 243.94 L26.00 244.50 L26.40 243.79 L26.80 244.46 L27.20 245.20 L27.60 242.51 L28.00 243.17 L28.40 243.94 L28.80 243.03 L29.20 242.04 L29.60 244.11 L30.00 243.03 L30.40 242.16 L30.80 242.06 L31.20 242.98 L31.60 245.07 L32.00 240.80 L32.40 241.84 L32.80 242.13 L33.20 242.41 L33.60 241.58 L34.00 242.40 L34.40 243.13 L34.80 242.64 L35.20 242.35 L35.60 242.27 L36.00 242.96 L36.40 240.25 L36.80 243.01 L37.20 239.98 L37.60 242.40 L38.00 240.21 L38.40 238.52 L38.80 240.22 L39.20 241.58 L39.60 240.25 L40.00 239.98 L40.40 242.93 L40.80 241.00 L41.20 239.62 L41.60 240.57 L42.00 239.55 L42.40 238.40 L42.80 238.29 L43.20 238.01 L43.60 238.51 L44.00 239.96 L44.40 239.46 L44.80 239.85 L45.20 239.88 L45.60 239.61 L46.00 242.26 L46.40 239.80 L46.80 239.21 L47.20 240.84 L47.60 239.13 L48.00 238.13 L48.40 239.29 L48.80 236.11 L49.20 242.84 L49.60 239.24 L50.00 242.11 L50.40 237.02 L50.80 235.85 L51.20 242.69 L51.60 238.43 L52.00 237.67 L52.40 239.13 L52.80 237.52 L53.20 242.54 L53.60 236.88 L54.00 237.72 L54.40 238.32 L54.80 239.41 L55.20 237.09 L55.60 239.15 L56.00 237.78 L56.40 239.12 L56.80 242.27 L57.20 238.15 L57.60 237.67 L58.00 236.58 L58.40 239.64 L58.80 238.00 L59.20 236.71 L59.60 237.58 L60.00 235.43 L60.40 234.69 L60.80 239.49 L61.20 241.42 L61.60 236.00 L62.00 234.65 L62.40 235.79 L62.80 235.95 L63.20 238.72 L63.60 238.87 L64.00 235.68 L64.40 239.19 L64.80 240.93 L65.20 239.29 L65.60 234.10 L66.00 234.05 L66.40 238.56 L66.80 238.61 L67.20 236.66 L67.60 238.58 L68.00 234.41 L68.40 237.16 L68.80 239.16 L69.20 234.28 L69.60 238.07 L70.00 236.40 L70.40 236.83 L70.80 237.41 L71.20 236.07 L71.60 238.11 L72.00 240.44 L72.40 241.14 L72.80 239.19 L73.20 238.11 L73.60 236.55 L74.00 236.35 L74.40 235.21 L74.80 236.02 L75.20 237.85 L75.60 237.59 L76.00 240.50 L76.40 236.27 L76.80 234.78 L77.20 234.58 L77.60 235.89 L78.00 235.92 L78.40 233.40 L78.80 235.32 L79.20 233.64 L79.60 233.88 L80.00 234.61 L80.40 232.07 L80.80 236.18 L81.20 235.61 L81.60 236.54 L82.00 236.43 L82.40 230.99 L82.80 230.78 L83.20 234.29 L83.60 232.94 L84.00 231.44 L84.40 232.19 L84.80 231.17 L85.20 236.84 L85.60 235.29 L86.00 232.63 L86.40 230.21 L86.80 233.25 L87.20 235.45 L87.60 234.15 L88.00 234.79 L88.40 235.16 L88.80 229.36 L89.20 234.40 L89.60 232.72 L90.00 228.75 L90.40 229.65 L90.80 231.63 L91.20 233.86 L91.60 231.22 L92.00 228.15 L92.40 230.47 L92.80 228.76 L93.20 231.57 L93.60 230.40 L94.00 232.11 L94.40 230.41 L94.80 228.07 L95.20 234.94 L95.60 231.33 L96.00 230.45 L96.40 232.44 L96.80 231.65 L97.20 228.70 L97.60 226.46 L98.00 228.89 L98.40 229.57 L98.80 234.64 L99.20 226.67 L99.60 230.86 L100.00 231.39 L100.40 234.38 L100.80 231.92 L101.20 234.76 L101.60 232.08 L102.00 231.35 L102.40 232.66 L102.80 232.30 L103.20 235.26 L103.60 230.06 L104.00 235.24 L104.40 238.19 L104.80 234.62 L105.20 236.18 L105.60 236.96 L106.00 235.72 L106.40 234.53 L106.80 238.00 L107.20 235.96 L107.60 232.86 L108.00 234.71 L108.40 236.72 L108.80 236.38 L109.20 237.13 L109.60 237.23 L110.00 235.94 L110.40 237.78 L110.80 242.05 L111.20 238.08 L111.60 239.92 L112.00 237.29 L112.40 239.81 L112.80 238.66 L113.20 236.34 L113.60 241.17 L114.00 241.50 L114.40 242.16 L114.80 243.63 L115.20 243.26 L115.60 239.90 L116.00 241.67 L116.40 243.72 L116.80 243.31 L117.20 240.47 L117.60 242.66 L118.00 242.29 L118.40 241.58 L118.80 240.50 L119.20 240.48 L119.60 241.45 L120.00 242.74 L120.40 242.85 L120.80 241.48 L121.20 241.87 L121.60 243.83 L122.00 243.23 L122.40 243.56 L122.80 243.94 L123.20 244.55 L123.60 245.20 L124.00 244.83 L124.40 245.20 L124.80 244.02 L125.20 244.55 L125.60 245.20 L126.00 244.16 L126.40 244.46 L126.80 245.20 L127.20 244.20 L127.60 244.62 L128.00 244.30 L128.40 245.20 L128.80 244.85 L129.20 244.93 L129.60 245.04 L130.00 245.08 L130.40 244.86 L130.80 245.20" fill="none" stroke="#000" stroke-width="1.55" stroke-linejoin="round"/>
<line x1="130.00" y1="245.20" x2="202.60" y2="245.20" stroke="#000" stroke-width="1.7" />
<path d="M22.00 261.00 L22.40 261.00 L22.80 260.50 L23.20 260.34 L23.60 259.13 L24.00 258.96 L24.40 258.96 L24.80 259.56 L25.20 259.04 L25.60 256.96 L26.00 256.91 L26.40 257.56 L26.80 257.93 L27.20 254.76 L27.60 257.72 L28.00 255.33 L28.40 254.06 L28.80 256.13 L29.20 253.79 L29.60 257.02 L30.00 252.61 L30.40 253.80 L30.80 257.03 L31.20 252.05 L31.60 254.93 L32.00 249.85 L32.40 253.73 L32.80 252.19 L33.20 250.76 L33.60 251.79 L34.00 249.98 L34.40 251.55 L34.80 248.13 L35.20 249.37 L35.60 248.40 L36.00 254.23 L36.40 245.00 L36.80 247.55 L37.20 252.05 L37.60 246.50 L38.00 245.03 L38.40 242.87 L38.80 248.57 L39.20 240.55 L39.60 245.07 L40.00 239.42 L40.40 244.17 L40.80 241.24 L41.20 243.99 L41.60 245.89 L42.00 238.57 L42.40 238.78 L42.80 236.38 L43.20 238.17 L43.60 242.41 L44.00 245.62 L44.40 241.98 L44.80 241.72 L45.20 241.84 L45.60 236.80 L46.00 237.29 L46.40 238.96 L46.80 237.09 L47.20 237.94 L47.60 236.56 L48.00 234.56 L48.40 233.70 L48.80 239.29 L49.20 242.03 L49.60 231.63 L50.00 236.10 L50.40 232.78 L50.80 242.54 L51.20 238.10 L51.60 237.01 L52.00 242.24 L52.40 239.18 L52.80 235.06 L53.20 234.00 L53.60 232.39 L54.00 240.95 L54.40 243.05 L54.80 236.84 L55.20 235.75 L55.60 238.56 L56.00 243.81 L56.40 237.23 L56.80 237.51 L57.20 238.60 L57.60 242.27 L58.00 240.03 L58.40 238.96 L58.80 243.69 L59.20 248.12 L59.60 241.86 L60.00 241.88 L60.40 243.76 L60.80 241.64 L61.20 246.45 L61.60 245.44 L62.00 246.54 L62.40 244.53 L62.80 242.18 L63.20 247.75 L63.60 243.23 L64.00 243.95 L64.40 246.38 L64.80 247.37 L65.20 245.27 L65.60 250.19 L66.00 250.42 L66.40 253.10 L66.80 249.84 L67.20 248.24 L67.60 250.55 L68.00 251.23 L68.40 253.01 L68.80 252.62 L69.20 256.35 L69.60 251.67 L70.00 255.01 L70.40 256.73 L70.80 256.42 L71.20 256.92 L71.60 254.35 L72.00 254.47 L72.40 258.85 L72.80 255.51 L73.20 255.78 L73.60 258.20 L74.00 259.70 L74.40 258.78 L74.80 258.79 L75.20 257.63 L75.60 258.75 L76.00 261.00 L76.40 258.37 L76.80 260.68 L77.20 258.01 L77.60 260.55 L78.00 260.15 L78.40 260.46 L78.80 260.31 L79.20 258.77 L79.60 259.24 L80.00 259.54 L80.40 259.85 L80.80 261.00 L81.20 260.64 L81.60 260.71 L82.00 261.00 L82.40 260.06 L82.80 260.98 L83.20 261.00 L83.60 261.00 L84.00 261.00 L84.40 260.40 L84.80 260.12 L85.20 260.74 L85.60 261.00 L86.00 261.00 L86.40 260.79 L86.80 260.38 L87.20 260.78 L87.60 260.56 L88.00 260.38 L88.40 260.55 L88.80 261.00 L89.20 260.66 L89.60 260.78" fill="none" stroke="#000" stroke-width="1.55" stroke-linejoin="round"/>
<line x1="36.40" y1="271.50" x2="192.00" y2="271.50" stroke="#000" stroke-width="1.1" />
<path d="M199 271.5L191 267.9V275.1Z" fill="#000"/>
<text x="104.9" y="287.2" font-size="12.4">H2-K<tspan font-size="7.8" dy="-3.4" dx="0.2">b</tspan></text>
<text x="224.00" y="170.00" font-size="11" text-anchor="middle" >IFN-γ</text>
<text x="225.00" y="183.60" font-size="11" text-anchor="middle" >(ng/ml)</text>
<text x="222.60" y="198.40" font-size="10.2" text-anchor="middle" >10</text>
<text x="223.00" y="214.60" font-size="10.2" text-anchor="middle" >1</text>
<text x="223.00" y="231.80" font-size="10.2" text-anchor="middle" >0.1</text>
<text x="223.40" y="247.90" font-size="16" text-anchor="middle" >-</text>
<text x="204.00" y="262.60" font-size="11" text-anchor="start" >Isotype</text>
<text x="-0.40" y="311.50" font-size="15" text-anchor="start" >C</text>
<text x="80.20" y="313.10" font-size="12.1" text-anchor="middle" >IFN-γ</text>
<text x="78.50" y="327.40" font-size="12.2" text-anchor="middle" >(10 ng/ml)</text>
<line x1="48.50" y1="331.60" x2="107.80" y2="331.60" stroke="#000" stroke-width="1.9" />
<line x1="59.20" y1="340.20" x2="67.80" y2="340.20" stroke="#000" stroke-width="2.4" />
<text x="94.00" y="347.20" font-size="15" text-anchor="middle" >+</text>
<defs><filter id="bl" filterUnits="userSpaceOnUse" x="40" y="340" width="80" height="116"><feGaussianBlur stdDeviation="1.5 1.0"/></filter><filter id="mot" x="0" y="0" width="100%" height="100%"><feTurbulence type="fractalNoise" baseFrequency="0.22" numOctaves="2" seed="4"/><feColorMatrix type="matrix" values="0 0 0 0 0  0 0 0 0 0  0 0 0 0 0  0.35 0 0 0 -0.13"/><feComposite in2="SourceGraphic" operator="in"/></filter><linearGradient id="g1" x1="0" x2="1" y1="0" y2="0"><stop offset="0" stop-color="#d2d2d2"/><stop offset="0.5" stop-color="#d9d9d9"/><stop offset="1" stop-color="#e2e2e2"/></linearGradient><linearGradient id="g2" x1="0" x2="1" y1="0" y2="0"><stop offset="0" stop-color="#cbcbcb"/><stop offset="0.6" stop-color="#d3d3d3"/><stop offset="1" stop-color="#cfcfcf"/></linearGradient></defs>
<rect x="46.6" y="349.3" width="64.7" height="31.0" fill="url(#g1)"/>
<rect x="46.6" y="349.3" width="64.7" height="31" fill="#9a9a9a" filter="url(#mot)"/>
<path d="M86.0 366.4Q96.2 364.8 106.5 366.4" fill="none" stroke="#222" stroke-width="3.4" stroke-linecap="round" opacity="1" filter="url(#bl)"/>
<rect x="46.6" y="349.3" width="64.7" height="31.0" fill="none" stroke="#000" stroke-width="1.45"/>
<rect x="46.6" y="384.4" width="64.7" height="30.400000000000034" fill="url(#g2)"/>
<rect x="46.6" y="384.4" width="64.7" height="30.4" fill="#8a8a8a" filter="url(#mot)"/>
<path d="M83.0 405.0Q93.8 404.4 104.5 405.0" fill="none" stroke="#666" stroke-width="3.4" stroke-linecap="round" opacity="0.85" filter="url(#bl)"/>
<path d="M90.0 392.5Q95.0 392.5 100.0 392.5" fill="none" stroke="#aaa" stroke-width="2.0" stroke-linecap="round" opacity="0.5" filter="url(#bl)"/>
<rect x="46.6" y="384.4" width="64.7" height="30.400000000000034" fill="none" stroke="#000" stroke-width="1.45"/>
<rect x="46.6" y="419.2" width="64.7" height="33.69999999999999" fill="#fefefe"/>
<path d="M54.0 435.1Q65.2 435.7 76.5 435.1" fill="none" stroke="#707070" stroke-width="3.6" stroke-linecap="round" opacity="1" filter="url(#bl)"/>
<path d="M86.5 437.9Q96.8 436.9 107.0 437.9" fill="none" stroke="#484848" stroke-width="4.2" stroke-linecap="round" opacity="1" filter="url(#bl)"/>
<rect x="46.6" y="419.2" width="64.7" height="33.69999999999999" fill="none" stroke="#000" stroke-width="1.45"/>
<text x="124.60" y="368.70" font-size="12.3" text-anchor="start" >Tap1</text>
<text x="124.60" y="408.20" font-size="12.3" text-anchor="start" >Lmp2</text>
<text x="124.40" y="445.20" font-size="12.4" text-anchor="start" >α-Tubulin</text>
</svg>
</body></html>
